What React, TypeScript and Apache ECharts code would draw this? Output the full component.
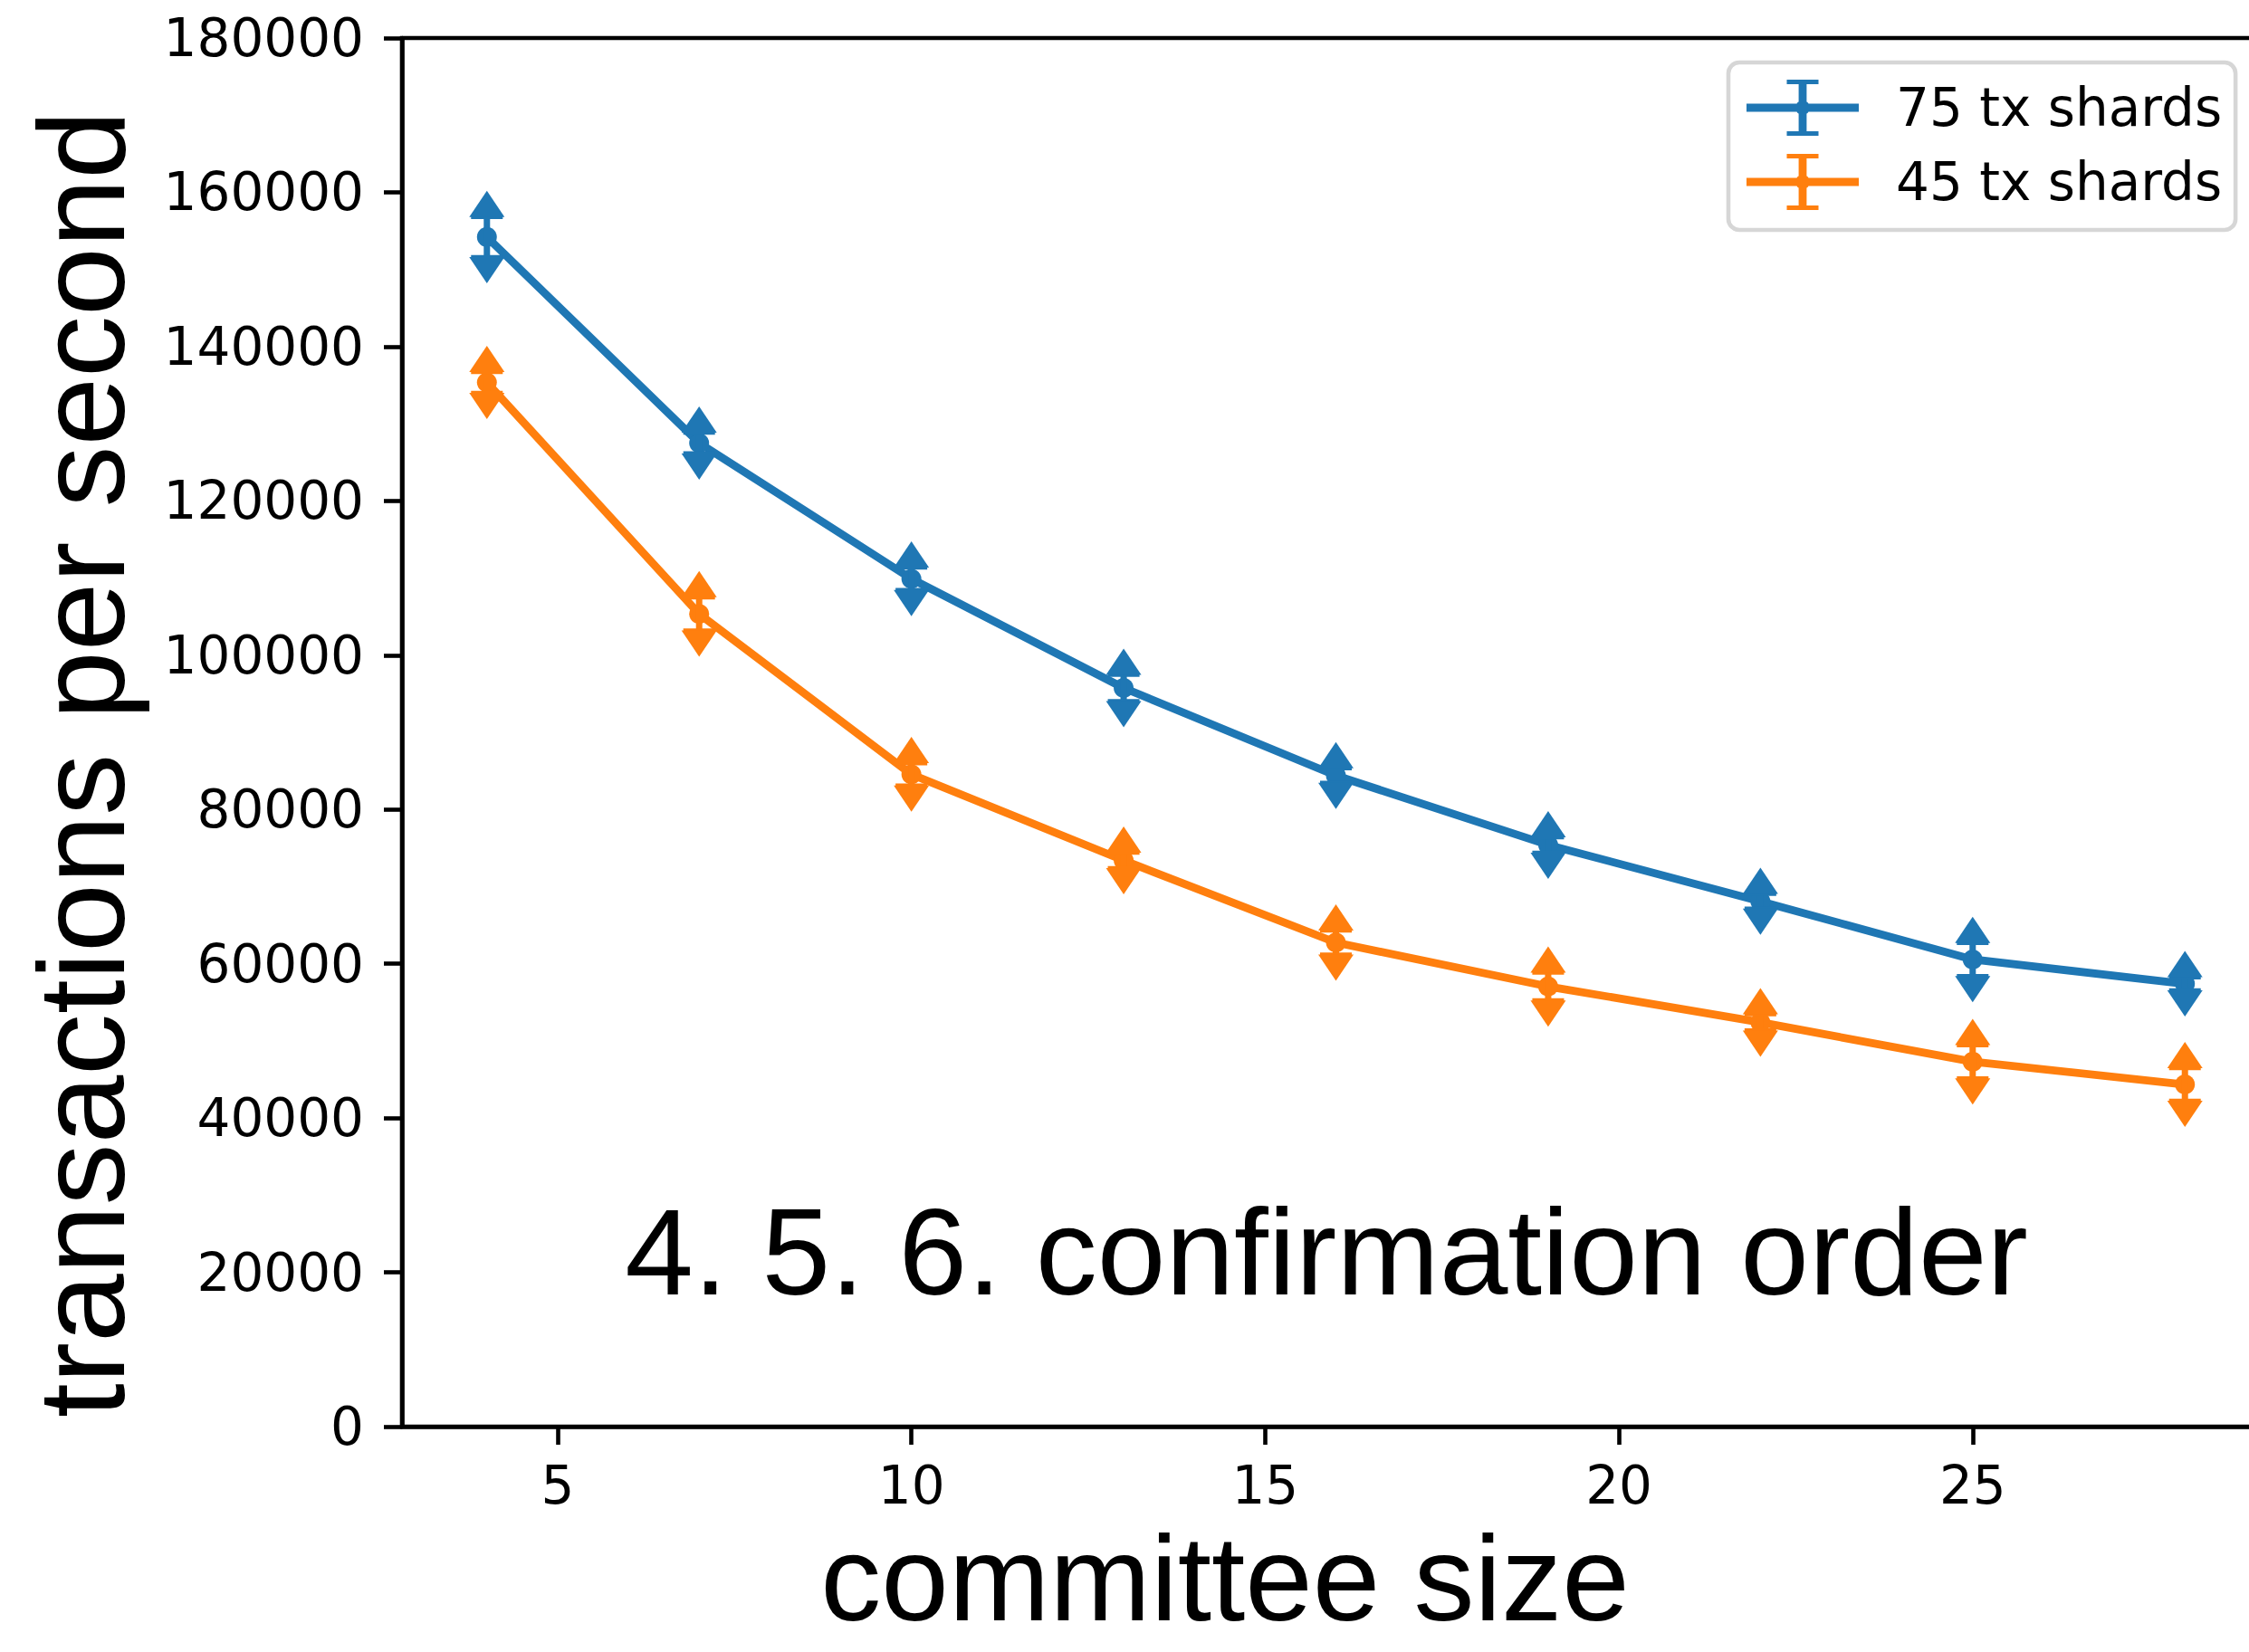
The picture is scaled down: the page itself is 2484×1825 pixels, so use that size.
import React, { useEffect, useRef } from "react";
import * as echarts from "echarts";

// ---- data ----
const committeeSizes = [4, 7, 10, 13, 16, 19, 22, 25, 28];
const tps75 = [154200, 127500, 109900, 95750, 84400, 75400, 68100, 60550, 57400];
const err75 = [2600, 1350, 1450, 1700, 950, 1000, 950, 2150, 850];
const tps45 = [135350, 105350, 84550, 73400, 62750, 57050, 52400, 47300, 44350];
const err45 = [1350, 2150, 1450, 1000, 1550, 1800, 1050, 2150, 2120];
const xTickValues = [5, 10, 15, 20, 25];
const seriesNames = ["75 tx shards", "45 tx shards"];
const xAxisTitle = "committee size";
const yAxisTitle = "transactions per second";
const annotation = "4. 5. 6. confirmation order";

const COLORS = ["#1f77b4", "#ff7f0e"];
const W = 2484;
const H = 1825;
const CW = 2530;

const LEGEND_ICON =
  "path://M0,26.6 h124 v8.8 h-124 Z M57.6,0 h8.8 v62 h-8.8 Z M44.5,0 h35 v5 h-35 Z M44.5,57 h35 v5 h-35 Z M54,31 A8,8 0 1,1 70,31 A8,8 0 1,1 54,31 Z";

function errRender(color: string) {
  return (_params: any, api: any) => {
    const x = api.value(0);
    const y = api.value(1);
    const e = api.value(2);
    const c = api.coord([x, y]);
    const t = api.coord([x, y + e]);
    const b = api.coord([x, y - e]);
    const hw = 19.5;
    const th = 29;
    const cw = 17.5;
    return {
      type: "group",
      children: [
        { type: "line", shape: { x1: c[0], y1: t[1], x2: c[0], y2: b[1] }, style: { stroke: color, lineWidth: 7 } },
        { type: "line", shape: { x1: c[0] - cw, y1: t[1], x2: c[0] + cw, y2: t[1] }, style: { stroke: color, lineWidth: 4.6 } },
        { type: "line", shape: { x1: c[0] - cw, y1: b[1], x2: c[0] + cw, y2: b[1] }, style: { stroke: color, lineWidth: 4.6 } },
        { type: "polygon", shape: { points: [[c[0] - hw, t[1]], [c[0] + hw, t[1]], [c[0], t[1] - th]] }, style: { fill: color } },
        { type: "polygon", shape: { points: [[c[0] - hw, b[1]], [c[0] + hw, b[1]], [c[0], b[1] + th]] }, style: { fill: color } },
      ],
    };
  };
}

export default function App() {
  const ref = useRef<HTMLDivElement>(null);
  useEffect(() => {
    document.body.style.margin = "0";
    const chart = echarts.init(ref.current!, undefined, { renderer: "svg" });
    const lineData = [tps75, tps45].map((arr) => committeeSizes.map((x, i) => [x, arr[i]]));
    const errData = [
      committeeSizes.map((x, i) => [x, tps75[i], err75[i]]),
      committeeSizes.map((x, i) => [x, tps45[i], err45[i]]),
    ];
    const tickFont = "DejaVu Sans";
    const titleFont = "Liberation Sans";
    const titleStyle = (text: string, size: number) => ({
      text,
      fontSize: size,
      lineHeight: 120,
      fontFamily: titleFont,
      fill: "#000",
      textAlign: "center",
      align: "center",
      textVerticalAlign: "middle",
      verticalAlign: "middle",
    });
    chart.setOption({
      animation: false,
      backgroundColor: "#ffffff",
      grid: {
        left: 444,
        top: 42,
        right: CW - 2507,
        bottom: H - 1576,
        show: true,
        borderColor: "#000",
        borderWidth: 4.6,
        backgroundColor: "transparent",
      },
      xAxis: {
        type: "value",
        min: 2.8,
        max: 29.2,
        axisLine: { show: true, lineStyle: { color: "#000", width: 4.6 } },
        axisTick: { show: true, length: 20, lineStyle: { color: "#000", width: 4.6 }, customValues: xTickValues },
        axisLabel: {
          fontSize: 58,
          fontFamily: tickFont,
          color: "#000",
          margin: 36,
          customValues: xTickValues,
          formatter: (v: number) => (xTickValues.includes(v) ? String(v) : ""),
        },
        splitLine: { show: false },
      },
      yAxis: {
        type: "value",
        min: 0,
        max: 180000,
        interval: 20000,
        axisLine: { show: true, lineStyle: { color: "#000", width: 4.6 } },
        axisTick: { show: true, length: 20, lineStyle: { color: "#000", width: 4.6 } },
        axisLabel: {
          fontSize: 58,
          fontFamily: tickFont,
          color: "#000",
          margin: 42,
          formatter: (v: number) => String(v),
        },
        splitLine: { show: false },
      },
      legend: {
        left: 1909,
        top: 69,
        orient: "vertical",
        padding: [19, 15, 22, 20],
        itemGap: 20,
        itemWidth: 124,
        itemHeight: 62,
        borderColor: "#d6d6d6",
        borderWidth: 4.6,
        borderRadius: 12,
        backgroundColor: "rgba(255,255,255,0.8)",
        itemStyle: { borderWidth: 0 },
        textStyle: { fontSize: 58, fontFamily: tickFont, color: "#000", padding: [0, 0, 0, 36] },
        data: seriesNames.map((n) => ({ name: n, icon: LEGEND_ICON })),
      },
      graphic: [
        { type: "text", x: 1353, y: 1743, style: titleStyle(xAxisTitle, 134) },
        { type: "text", x: 90, y: 844, rotation: Math.PI / 2, style: titleStyle(yAxisTitle, 136) },
        { type: "text", x: 1465, y: 1383, style: titleStyle(annotation, 136) },
      ],
      series: [
        ...seriesNames.map((name, k) => ({
          name,
          type: "line",
          data: lineData[k],
          symbol: "circle",
          symbolSize: 22,
          z: 2,
          lineStyle: { color: COLORS[k], width: 8.8 },
          itemStyle: { color: COLORS[k], borderWidth: 0 },
          emphasis: { disabled: true },
        })),
        ...seriesNames.map((name, k) => ({
          name: name + " error",
          type: "custom",
          data: errData[k],
          z: 3,
          renderItem: errRender(COLORS[k]),
          encode: { x: 0, y: 1 },
        })),
      ],
    });
    return () => chart.dispose();
  }, []);
  return (
    <div style={{ position: "fixed", left: 0, top: 0, width: W, height: H, overflow: "hidden", background: "#fff" }}>
      <div ref={ref} style={{ width: CW, height: H }} />
    </div>
  );
}
